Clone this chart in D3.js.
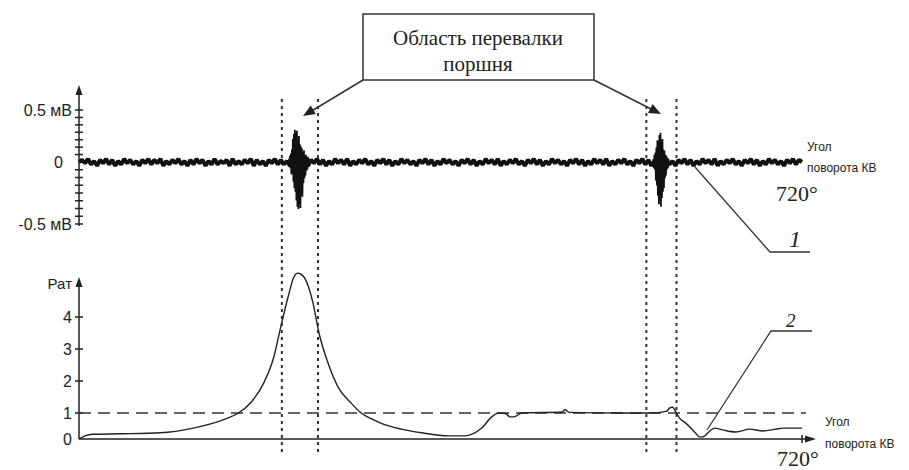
<!DOCTYPE html>
<html>
<head>
<meta charset="utf-8">
<script src="https://cdn.jsdelivr.net/npm/d3@7"></script>
<style>
  body { margin: 0; background: #fff; }
  svg text { fill: #222; }
  .sans { font-family: "Liberation Sans", Arial, sans-serif; }
  .serif { font-family: "Liberation Serif", "Times New Roman", serif; }
</style>
</head>
<body>
<div id="chart"></div>
<script>
// ---- data ----
// top trace: sensor signal, hundredths of mV, one value every 3 deg (0..720)
var noiseStep = 3;
var noiseTop = [
  0, 2,-1, 3,-2, 1,-3, 2,-1, 3,-2, 2,-3, 1,-2, 3,-1, 2,-2, 1,
 -3, 2,-1, 3,-2, 2,-1, 3,-3, 1,-2, 2,-1, 3,-2, 1,-3, 2,-2, 3,
 -1, 2,-3, 1,-2, 3,-2, 1,-1, 2,-3, 3,-2, 1,-2, 2,-1, 3,-3, 2,
 -2, 1,-3, 2,-1, 3,-2, 2,-2, 1,-3, 3,-1, 2,-2, 1,-3, 2,-1, 3,
 -2, 2,-3, 1,-2, 3,-1, 2,-2, 3,-3, 1,-2, 2,-1, 3,-2, 1,-3, 2,
 -1, 3,-2, 2,-3, 1,-2, 3,-1, 2,-2, 1,-3, 2,-1, 3,-2, 2,-3, 1,
 -2, 3,-1, 2,-2, 1,-3, 2,-1, 3,-2, 2,-3, 1,-2, 3,-1, 2,-2, 3,
 -3, 1,-2, 2,-1, 3,-2, 1,-3, 2,-1, 3,-2, 2,-3, 1,-2, 3,-1, 2,
 -2, 1,-3, 2,-1, 3,-2, 2,-3, 1,-2, 3,-1, 2,-2, 3,-3, 1,-2, 2,
 -1, 3,-2, 1,-3, 2,-1, 3,-2, 2,-3, 1,-2, 3,-1, 2,-2, 1,-3, 2,
 -1, 3,-2, 2,-3, 1,-2, 3,-1, 2,-2, 3,-3, 1,-2, 2,-1, 3,-2, 1,
 -3, 2,-1, 3,-2, 2,-3, 1,-2, 3,-1, 2,-2, 1,-3, 2,-1, 3,-2, 2,
  0];
// bursts (piston slap), hundredths of mV, one value every 0.5 deg
var burstStep = 0.5;
var burst1Start = 209;
var burst1 = [3,-4,6,-5,8,-10,12,-9,22,-16,27,-21,31,-24,28,-31,30,-36,22,-38,25,-34,
              17,-37,15,-26,13,-28,9,-17,11,-13,6,-11,7,-7,4,-6,5,-4,3,-3];
var burst2Start = 572;
var burst2 = [3,-5,7,-6,9,-15,14,-19,21,-27,19,-34,26,-31,28,-36,20,-29,22,-24,
              12,-21,11,-13,7,-11,6,-6,4,-5,3,-3];

// bottom trace: pressure, at (crank angle deg)
var presDeg = [0,6,14,40,81,114,131,148,158,171,184,194,201,208,214,218,224,233,239,248,
               258,271,281,291,301,321,341,368,384,401,411,418,425,429,433,441,481,484,488,
               541,568,585,588,591,595,598,604,614,618,621,628,633,641,654,668,681,694,701,720];
var presVal = [0,0.12,0.18,0.2,0.24,0.42,0.58,0.8,0.98,1.32,1.94,2.75,3.7,4.6,5.25,5.37,5.25,4.44,3.5,2.56,
               1.81,1.31,1.0,0.78,0.6,0.38,0.24,0.12,0.12,0.42,0.85,1.0,0.98,0.85,0.85,1.0,1.03,1.1,1.02,
               1.0,1.0,1.05,1.15,1.18,1.0,0.8,0.62,0.23,0.08,0.08,0.3,0.42,0.35,0.27,0.38,0.31,0.38,0.42,0.42];

var markDeg = [202, 238, 565, 595];   // dotted verticals
var topTickLabels = [{v: 0.5, t: "0.5 мВ"}, {v: 0, t: "0"}, {v: -0.5, t: "-0.5 мВ"}];
var botTicks = [0, 1, 2, 3, 4];
var refLevel = 1;

// ---- layout ----
var width = 909, height = 470;
var ink = "#222";

var svg = d3.select("#chart").append("svg")
  .attr("width", width)
  .attr("height", height);

var x = d3.scaleLinear().domain([0, 720]).range([79, 802]);
// drawn axes in the original are not evenly spaced, so piecewise scales
var yTop = d3.scaleLinear().domain([-0.5, 0, 0.5]).range([224, 162, 110]);
var yBot = d3.scaleLinear().domain([0, 1, 4]).range([439, 413, 317]);

function arrowHead(px, py, angle, len, w) {
  // filled triangle, tip at (px,py), pointing in direction angle
  var a = angle, c = Math.cos(a), s = Math.sin(a);
  var bx = px - c * len, by = py - s * len;
  var p = [[px, py], [bx - s * w, by + c * w], [bx + s * w, by - c * w]];
  svg.append("path").attr("d", "M" + p.join("L") + "Z").attr("fill", ink);
}

// dotted verticals
markDeg.forEach(function(d) {
  svg.append("line")
    .attr("x1", x(d)).attr("x2", x(d))
    .attr("y1", 99).attr("y2", 452)
    .attr("stroke", "#333").attr("stroke-width", 2)
    .attr("stroke-dasharray", "3,4");
});

// ---- top panel ----
svg.append("line").attr("x1", 79).attr("x2", 79).attr("y1", 226).attr("y2", 92)
  .attr("stroke", ink).attr("stroke-width", 1.5);
arrowHead(79, 85, -Math.PI / 2, 10, 3.5);

var topTicks = d3.range(1, 8).map(function(k) { return 0.5 * k / 7; })
  .concat(d3.range(1, 9).map(function(k) { return -0.5 * k / 8; }));
svg.selectAll(".tickTop").data(topTicks).enter().append("line")
  .attr("class", "tickTop")
  .attr("x1", 75).attr("x2", 83)
  .attr("y1", function(d) { return yTop(d); })
  .attr("y2", function(d) { return yTop(d); })
  .attr("stroke", ink).attr("stroke-width", 1.5);

svg.selectAll(".lblTop").data(topTickLabels).enter().append("text")
  .attr("class", "lblTop sans")
  .attr("x", function(d) { return d.v === 0 ? 63 : 72; })
  .attr("y", function(d) { return yTop(d.v); })
  .attr("dy", "0.35em")
  .attr("text-anchor", "end")
  .style("font-size", "16px")
  .text(function(d) { return d.t; });

var sigLine = d3.line()
  .x(function(d) { return x(d[0]); })
  .y(function(d) { return yTop(d[1] / 100); });

var noisePts = noiseTop.map(function(v, i) { return [i * noiseStep, v]; });
svg.append("path").datum(noisePts)
  .attr("d", sigLine).attr("fill", "none")
  .attr("stroke", "#111").attr("stroke-width", 4)
  .attr("stroke-linejoin", "bevel");

[[burst1Start, burst1], [burst2Start, burst2]].forEach(function(b) {
  var pts = b[1].map(function(v, i) { return [b[0] + i * burstStep, v]; });
  svg.append("path").datum(pts)
    .attr("d", sigLine).attr("fill", "none")
    .attr("stroke", "#111").attr("stroke-width", 1.8);
});

svg.append("text").attr("class", "sans").attr("x", 807).attr("y", 151)
  .style("font-size", "12px").text("Угол");
svg.append("text").attr("class", "sans").attr("x", 807).attr("y", 172)
  .style("font-size", "12px").text("поворота КВ");
svg.append("text").attr("class", "serif").attr("x", 776).attr("y", 201)
  .style("font-size", "22px").text("720°");

// leader 1
svg.append("polyline").attr("points", "695,167 770,252 810,252")
  .attr("fill", "none").attr("stroke", "#333").attr("stroke-width", 1.3);
svg.append("text").attr("class", "serif").attr("x", 789).attr("y", 247)
  .style("font-size", "24px").style("font-style", "italic").text("1");

// ---- callout box ----
svg.append("rect").attr("x", 363).attr("y", 14).attr("width", 231).attr("height", 66)
  .attr("fill", "#fff").attr("stroke", "#333").attr("stroke-width", 1.5);
svg.append("text").attr("class", "serif").attr("x", 478).attr("y", 45)
  .attr("text-anchor", "middle").style("font-size", "21px").text("Область перевалки");
svg.append("text").attr("class", "serif").attr("x", 478).attr("y", 71)
  .attr("text-anchor", "middle").style("font-size", "21px").text("поршня");
svg.append("line").attr("x1", 363).attr("y1", 80).attr("x2", 310).attr("y2", 112)
  .attr("stroke", "#333").attr("stroke-width", 1.5);
arrowHead(303, 116, Math.atan2(36, -60), 12, 5);
svg.append("line").attr("x1", 594).attr("y1", 80).attr("x2", 653).attr("y2", 110)
  .attr("stroke", "#333").attr("stroke-width", 1.5);
arrowHead(661, 114, Math.atan2(34, 67), 12, 5);

// ---- bottom panel ----
svg.append("line").attr("x1", 79).attr("x2", 79).attr("y1", 439).attr("y2", 285)
  .attr("stroke", ink).attr("stroke-width", 1.5);
arrowHead(79, 277, -Math.PI / 2, 10, 3.5);
svg.append("line").attr("x1", 79).attr("x2", 806).attr("y1", 439).attr("y2", 439)
  .attr("stroke", ink).attr("stroke-width", 1.5);
arrowHead(816, 439, 0, 11, 3.5);
svg.append("line").attr("x1", x(720)).attr("x2", x(720)).attr("y1", 435).attr("y2", 443)
  .attr("stroke", ink).attr("stroke-width", 1.5);

svg.selectAll(".tickBot").data(botTicks.slice(1)).enter().append("line")
  .attr("class", "tickBot")
  .attr("x1", 75).attr("x2", 83)
  .attr("y1", function(d) { return yBot(d); })
  .attr("y2", function(d) { return yBot(d); })
  .attr("stroke", ink).attr("stroke-width", 1.5);
svg.selectAll(".lblBot").data(botTicks).enter().append("text")
  .attr("class", "lblBot sans")
  .attr("x", 72)
  .attr("y", function(d) { return yBot(d); })
  .attr("dy", "0.35em")
  .attr("text-anchor", "end")
  .style("font-size", "16px")
  .text(function(d) { return d; });
svg.append("text").attr("class", "sans").attr("x", 72).attr("y", 284)
  .attr("dy", "0.35em").attr("text-anchor", "end")
  .style("font-size", "15px").text("Рат");

// reference level 1 at
svg.append("line").attr("x1", 79).attr("x2", 806)
  .attr("y1", yBot(refLevel)).attr("y2", yBot(refLevel))
  .attr("stroke", "#333").attr("stroke-width", 1.5)
  .attr("stroke-dasharray", "12,7");

var presLine = d3.line()
  .x(function(d, i) { return x(presDeg[i]); })
  .y(function(d) { return yBot(d); })
  .curve(d3.curveMonotoneX);
svg.append("path").datum(presVal)
  .attr("d", presLine).attr("fill", "none")
  .attr("stroke", "#222").attr("stroke-width", 1.4);

svg.append("text").attr("class", "sans").attr("x", 825).attr("y", 426)
  .style("font-size", "12px").text("Угол");
svg.append("text").attr("class", "sans").attr("x", 825).attr("y", 448)
  .style("font-size", "12px").text("поворота КВ");
svg.append("text").attr("class", "serif").attr("x", 777).attr("y", 466)
  .style("font-size", "22px").text("720°");

// leader 2
svg.append("polyline").attr("points", "707,430 771,331 812,331")
  .attr("fill", "none").attr("stroke", "#333").attr("stroke-width", 1.3);
svg.append("text").attr("class", "serif").attr("x", 786).attr("y", 327)
  .style("font-size", "19px").style("font-style", "italic").text("2");
</script>
</body>
</html>
